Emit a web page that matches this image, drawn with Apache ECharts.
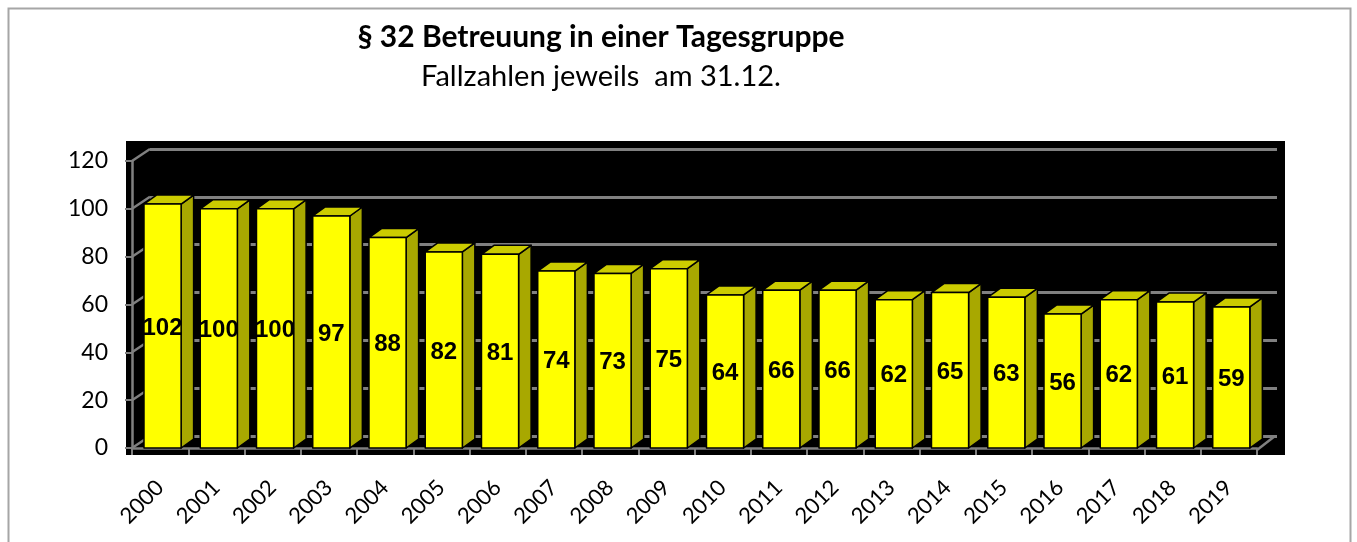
<!DOCTYPE html>
<html><head><meta charset="utf-8">
<script src="https://cdn.jsdelivr.net/npm/echarts@6/dist/echarts.min.js"></script>
<style>html,body{margin:0;padding:0;background:#fff}#c{width:1357px;height:542px}</style>
</head><body><div id="c"></div>
<script>
const categories = ['2000','2001','2002','2003','2004','2005','2006','2007','2008','2009','2010','2011','2012','2013','2014','2015','2016','2017','2018','2019'];
const values = [102,100,100,97,88,82,81,74,73,75,64,66,66,62,65,63,56,62,61,59];
const yTicks = [0,20,40,60,80,100,120];
const titleText = '§ 32 Betreuung in einer Tagesgruppe';
const subtitleText = 'Fallzahlen jeweils  am 31.12.';

const DX = 18, DY = -12;     // wall depth offset
const BX = 12.5, BY = -9;    // bar depth offset
const GRID_GRAY = '#808080';

function renderBar(params, api) {
  const i = api.value(0), v = api.value(1);
  const top = api.coord([i, v]);
  const base = api.coord([i, 0]);
  const band = api.size([1, 0])[0];
  const bandStart = top[0] - band / 2;
  const x0 = bandStart + band * 0.213;
  const x1 = x0 + band * 0.66;
  const yt = top[1], yb = base[1];
  const stroke = {stroke: '#000', lineWidth: 1.5, lineJoin: 'round'};
  return {
    type: 'group',
    children: [
      {type: 'polygon', shape: {points: [[x1, yt], [x1 + BX, yt + BY], [x1 + BX, yb + BY], [x1, yb]]},
        style: Object.assign({fill: '#A8A800'}, stroke)},
      {type: 'polygon', shape: {points: [[x0, yt], [x0 + BX, yt + BY], [x1 + BX, yt + BY], [x1, yt]]},
        style: Object.assign({fill: '#CCCC00'}, stroke)},
      {type: 'rect', shape: {x: x0, y: yt, width: x1 - x0, height: yb - yt},
        style: Object.assign({fill: '#FFFF00'}, stroke)},
      {type: 'text', z2: 10, style: {text: String(v), x: (x0 + x1) / 2, y: (yt + yb) / 2 + 2,
        align: 'center', verticalAlign: 'middle', fill: '#000',
        font: 'bold 24px "Liberation Sans", Arial, sans-serif'}}
    ]
  };
}

function renderWall(params, api) {
  const t = api.value(1);
  const p = api.coord([0, t]);
  const band = api.size([1, 0])[0];
  const lx = p[0] - band / 2;
  return {type: 'line', shape: {x1: lx, y1: p[1], x2: lx + DX, y2: p[1] + DY},
    style: {stroke: GRID_GRAY, lineWidth: 2.5}};
}

function renderFloor(params, api) {
  const p = api.coord([api.value(0), 0]);
  const band = api.size([1, 0])[0];
  const rx = p[0] + band / 2;
  return {type: 'line', shape: {x1: rx, y1: p[1] + 2, x2: rx + DX, y2: p[1] + DY},
    style: {stroke: GRID_GRAY, lineWidth: 2.5}};
}

const chart = echarts.init(document.getElementById('c'));
chart.setOption({
  animation: false,
  backgroundColor: '#fff',
  graphic: [
    {type: 'rect', z: -10, shape: {x: 8.5, y: 8.5, width: 1342, height: 600}, style: {fill: '#fff', stroke: '#a6a6a6', lineWidth: 2}},
    {type: 'rect', z: -9, shape: {x: 126, y: 141, width: 1159, height: 314}, style: {fill: '#000'}}
  ],
  title: [
    {text: titleText, left: 596, top: 17, textAlign: 'center',
      textStyle: {fontFamily: 'Lato', fontWeight: 'bold', fontSize: 30, color: '#000'}},
    {text: subtitleText, left: 596, top: 57, textAlign: 'center',
      textStyle: {fontFamily: 'Lato', fontWeight: 'normal', fontSize: 29, color: '#000'}}
  ],
  grid: [
    {left: 132, right: 100, top: 161, bottom: 94},
    {left: 150, right: 80, top: 149, bottom: 106}
  ],
  xAxis: [
    {type: 'category', gridIndex: 0, data: categories, boundaryGap: true,
      offset: 2,
      axisLine: {show: true, lineStyle: {color: GRID_GRAY, width: 2.5}},
      axisTick: {show: true, length: 7, interval: 0, lineStyle: {color: GRID_GRAY, width: 2}},
      axisLabel: {interval: 0, rotate: 45, margin: 34, fontSize: 22, fontFamily: 'Lato', color: '#000'},
      splitLine: {show: false}},
    {type: 'category', gridIndex: 1, data: categories, show: false}
  ],
  yAxis: [
    {type: 'value', gridIndex: 0, min: 0, max: 120, interval: 20,
      axisLine: {show: true, lineStyle: {color: GRID_GRAY, width: 2.5}},
      axisTick: {show: true, length: 7, lineStyle: {color: GRID_GRAY, width: 2}},
      axisLabel: {margin: 24, fontSize: 23, fontFamily: 'Lato', color: '#000', padding: [6, 0, 0, 0]},
      splitLine: {show: false}},
    {type: 'value', gridIndex: 1, min: 0, max: 120, interval: 20,
      axisLine: {show: false}, axisTick: {show: false}, axisLabel: {show: false},
      splitLine: {show: true, lineStyle: {color: GRID_GRAY, width: 3}}}
  ],
  series: [
    {type: 'custom', xAxisIndex: 0, yAxisIndex: 0, z: 1, renderItem: renderWall,
      data: yTicks.map(t => [0, t]), silent: true},
    {type: 'custom', xAxisIndex: 0, yAxisIndex: 0, z: 1, renderItem: renderFloor,
      data: [[categories.length - 1, 0]], silent: true},
    {type: 'custom', xAxisIndex: 0, yAxisIndex: 0, z: 5, renderItem: renderBar,
      data: values.map((v, i) => [i, v])}
  ]
});
</script></body></html>
